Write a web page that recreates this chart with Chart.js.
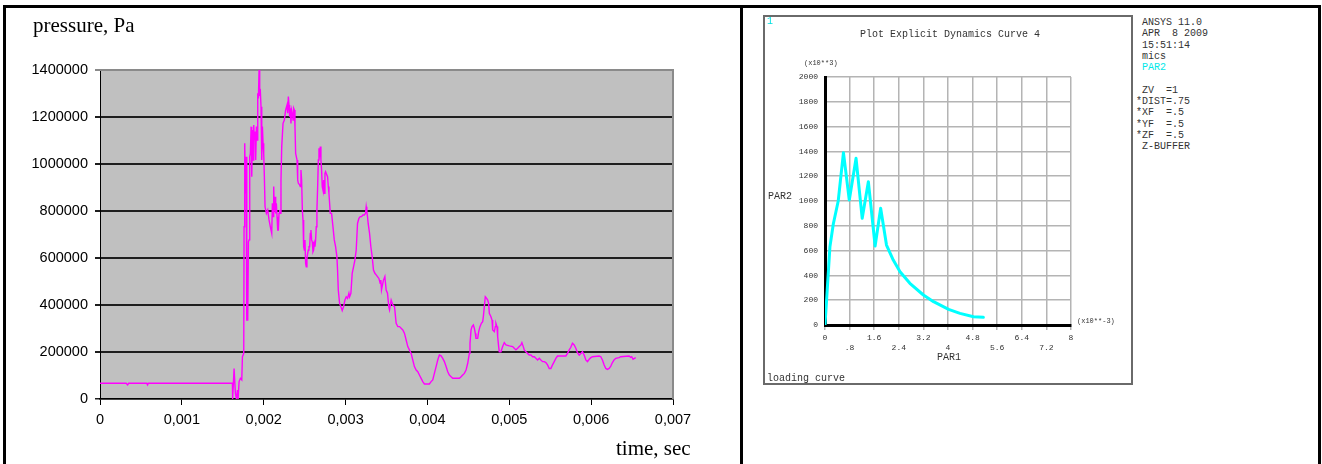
<!DOCTYPE html>
<html>
<head>
<meta charset="utf-8">
<script src="https://cdn.jsdelivr.net/npm/chart.js@4.4.1/dist/chart.umd.min.js"></script>
<style>
  html, body { margin: 0; padding: 0; background: #fff; }
  body { width: 1322px; height: 464px; position: relative; overflow: hidden; }
  .abs { position: absolute; }
  .line { position: absolute; background: #000; z-index: 5; }
  .txt { position: absolute; white-space: pre; z-index: 6; line-height: 1; }
  .mono { font-family: "Liberation Mono", "DejaVu Sans Mono", monospace; color: #333; }
</style>
</head>
<body>
<!-- frame -->
<div class="line" style="left:3px;top:5px;width:1318px;height:3px;"></div>
<div class="line" style="left:3px;top:5px;width:3px;height:470px;"></div>
<div class="line" style="left:740px;top:5px;width:3px;height:470px;"></div>
<div class="line" style="left:1318px;top:5px;width:3px;height:470px;"></div>

<div class="abs" style="left:0;top:0;width:740px;height:464px;"><canvas id="left"></canvas></div>

<div class="txt" style="left:33px;top:13px;font:21px 'Liberation Serif', serif;color:#000;">pressure, Pa</div>
<div class="txt" style="left:616px;top:436px;font:21px 'Liberation Serif', serif;color:#000;">time, sec</div>

<!-- ANSYS box -->
<div class="abs" style="left:763px;top:15px;width:366px;height:366px;border:2px solid #6a6a6a;"></div>
<div class="abs" style="left:765px;top:17px;width:366px;height:366px;"><canvas id="right"></canvas></div>

<div class="txt mono" style="left:767px;top:17px;font-size:10px;color:#00e0e0;">1</div>
<div class="txt mono" style="left:860px;top:30px;font-size:10px;">Plot Explicit Dynamics Curve 4</div>
<div class="txt mono" style="left:804px;top:60px;font-size:7px;">(x10**3)</div>
<div class="txt mono" style="left:768px;top:192px;font-size:10px;">PAR2</div>
<div class="txt mono" style="left:1077px;top:318px;font-size:7px;">(x10**-3)</div>
<div class="txt mono" style="left:937px;top:353px;font-size:10px;">PAR1</div>
<div class="txt mono" style="left:767px;top:374px;font-size:10px;">loading curve</div>

<div class="txt mono" style="left:1136px;top:17px;font-size:10px;line-height:11.3px;"> ANSYS 11.0
 APR  8 2009
 15:51:14
 mics
<span style="color:#00e8e8"> PAR2</span>

 ZV  =1
*DIST=.75
*XF  =.5
*YF  =.5
*ZF  =.5
 Z-BUFFER</div>

<script>
// ---------- data: left chart (Excel) ----------
const timeMs = [
0,0.32,0.337,0.35,0.57,0.581,0.59,1.618,1.620,1.638,1.654,1.667,1.679,1.687,1.699,1.715,1.732,1.740,1.756,1.760,
1.768,1.776,1.785,1.793,1.805,1.813,1.821,1.829,1.837,1.846,1.854,1.862,1.870,1.878,1.886,1.894,1.902,1.911,1.919,1.927,
1.935,1.943,1.951,1.959,1.967,1.976,1.984,1.992,2.000,2.008,2.016,2.033,2.049,2.065,2.081,2.098,2.106,2.114,2.122,2.130,
2.138,2.146,2.154,2.163,2.171,2.179,2.187,2.195,2.203,2.211,2.220,2.236,2.252,2.268,2.285,2.293,2.301,2.309,2.317,2.325,
2.333,2.341,2.350,2.358,2.366,2.374,2.382,2.390,2.407,2.415,2.423,2.439,2.447,2.455,2.463,2.472,2.480,2.488,2.496,2.504,
2.512,2.520,2.528,2.537,2.545,2.553,2.561,2.569,2.577,2.585,2.593,2.602,2.610,2.618,2.626,2.634,2.642,2.650,2.659,2.667,
2.675,2.683,2.691,2.699,2.707,2.715,2.724,2.732,2.740,2.748,2.756,2.764,2.772,2.780,2.789,2.797,2.805,2.813,2.829,2.846,
2.862,2.878,2.894,2.902,2.911,2.927,2.943,2.959,2.976,2.992,3.008,3.024,3.041,3.049,3.065,3.081,3.098,3.114,3.130,3.146,
3.163,3.179,3.195,3.211,3.228,3.244,3.252,3.260,3.268,3.276,3.293,3.309,3.325,3.341,3.358,3.374,3.390,3.407,3.423,3.431,
3.439,3.447,3.463,3.480,3.488,3.496,3.512,3.528,3.537,3.557,3.577,3.598,3.618,3.638,3.659,3.699,3.720,3.740,3.760,3.780,
3.801,3.821,3.841,3.862,3.882,3.902,3.923,3.943,3.963,4.024,4.045,4.065,4.085,4.106,4.126,4.146,4.167,4.187,4.207,4.228,
4.248,4.268,4.289,4.309,4.390,4.411,4.431,4.451,4.472,4.492,4.512,4.520,4.533,4.545,4.561,4.573,4.585,4.593,4.614,4.626,
4.642,4.659,4.675,4.683,4.695,4.707,4.724,4.736,4.748,4.756,4.776,4.789,4.797,4.817,4.829,4.837,4.850,4.858,4.870,4.878,
4.898,4.919,4.939,4.959,5.000,5.041,5.061,5.081,5.102,5.122,5.142,5.154,5.171,5.183,5.203,5.224,5.244,5.264,5.285,5.305,
5.325,5.346,5.366,5.386,5.407,5.427,5.447,5.467,5.488,5.508,5.528,5.549,5.569,5.589,5.691,5.711,5.732,5.752,5.772,5.793,
5.813,5.833,5.854,5.874,5.894,5.915,5.935,5.955,5.976,5.996,6.016,6.098,6.118,6.138,6.159,6.179,6.199,6.220,6.240,6.260,
6.280,6.301,6.341,6.362,6.463,6.484,6.496,6.512,6.528,6.545
];
const pressureKPa = [
67,67,60,67,67,60,67,67,0,130,24,0,38,0,74,88,81,180,194,733,
1088,875,1031,336,336,669,677,1031,1045,1159,946,1145,1017,1166,1102,1138,1017,1159,1102,1301,
1279,1400,1301,1308,1244,1017,1159,1088,1045,946,818,790,804,762,733,705,833,776,904,797,
861,790,833,776,719,719,790,804,790,932,1074,1173,1187,1230,1251,1216,1287,1251,1201,1237,
1173,1230,1216,1187,1237,1230,1159,1045,1017,932,918,911,904,974,932,804,762,648,634,677,
577,563,599,620,634,648,648,705,719,677,669,627,634,662,648,677,733,804,904,1017,
1067,1045,1074,1017,974,904,889,932,875,960,967,960,960,946,904,875,833,790,790,733,
677,648,606,549,464,407,393,376,393,421,435,428,450,435,450,535,563,591,634,747,
769,776,776,783,783,790,818,797,776,747,705,648,606,549,535,528,521,513,492,506,
464,478,506,521,492,464,450,393,379,421,400,393,322,308,308,294,279,251,223,209,
194,166,138,123,116,102,88,74,64,64,74,81,109,138,166,187,184,173,159,138,
116,102,95,88,88,95,102,109,123,152,194,237,294,308,315,301,279,258,258,287,
308,322,329,350,393,435,428,421,407,365,350,336,294,287,308,322,308,265,223,201,
201,223,240,230,226,223,216,209,216,223,230,240,223,209,201,194,187,187,180,180,
173,166,173,166,159,159,155,145,130,130,145,159,173,183,183,194,209,220,237,230,
216,197,187,194,201,187,166,159,169,176,180,183,180,166,145,130,126,130,140,155,
166,173,176,180,183,177,180,169,173,176
];
const leftXTicks = ['0','0,001','0,002','0,003','0,004','0,005','0,006','0,007'];
const leftYTicks = ['0','200000','400000','600000','800000','1000000','1200000','1400000'];

// ---------- data: right chart (ANSYS) ----------
const par1 = [0,0.16,0.27,0.43,0.6,0.79,1.01,1.21,1.41,1.63,1.81,2.0,2.22,2.44,2.76,3.2,3.53,4.02,4.39,4.83,5.15];
const par2 = [0,630,815,1000,1390,1008,1344,860,1156,637,941,645,524,430,336,242,188,126,94,67,62];
const ansysXTicks = ['0','.8','1.6','2.4','3.2','4','4.8','5.6','6.4','7.2','8'];
const ansysYTicks = ['0','200','400','600','800','1000','1200','1400','1600','1800','2000'];

const leftPts = timeMs.map((t, i) => ({ x: t / 1000, y: pressureKPa[i] * 1000 }));
const rightPts = par1.map((x, i) => ({ x: x, y: par2[i] }));

function fixedAxis(w, h) {
  return function (scale) {
    if (w !== null) scale.width = w;
    if (h !== null) scale.height = h;
    scale.paddingLeft = 0; scale.paddingRight = 0;
    scale.paddingTop = 0; scale.paddingBottom = 0;
  };
}

const plotBg = {
  id: 'plotBg',
  beforeDraw(chart, args, opts) {
    const a = chart.chartArea, c = chart.ctx;
    c.save();
    c.fillStyle = opts.color;
    c.fillRect(a.left, a.top, a.right - a.left, a.bottom - a.top);
    c.restore();
  },
  beforeDatasetsDraw(chart, args, opts) {
    if (!opts.edge) return;
    const a = chart.chartArea, c = chart.ctx;
    c.save();
    c.strokeStyle = opts.edge;
    c.lineWidth = 2;
    c.beginPath();
    c.moveTo(a.left, a.top); c.lineTo(a.right, a.top); c.lineTo(a.right, a.bottom);
    c.stroke();
    c.restore();
  }
};

const LEFT_W = 740, LEFT_H = 464;
new Chart(document.getElementById('left'), {
  type: 'line',
  data: { datasets: [{ data: leftPts, borderColor: '#ff00ff', borderWidth: 1.4, pointRadius: 0, tension: 0, fill: false }] },
  options: {
    responsive: true, maintainAspectRatio: false, animation: false,
    layout: { padding: { left: 0, top: 70, right: LEFT_W - 673, bottom: 0 } },
    plugins: { legend: { display: false }, tooltip: { enabled: false }, plotBg: { color: '#c0c0c0', edge: '#8a8a8a' } },
    scales: {
      x: {
        type: 'linear', min: 0, max: 0.007,
        afterBuildTicks: s => { s.ticks = leftXTicks.map(l => ({ value: parseFloat(l.replace(',', '.')) })); },
        afterFit: fixedAxis(null, LEFT_H - 399),
        ticks: { callback: (v, i) => leftXTicks[i], color: '#000', font: { family: 'Liberation Sans', size: 14.5 }, padding: 6, maxRotation: 0, autoSkip: false },
        grid: { drawOnChartArea: false, drawTicks: true, tickLength: 6, color: '#000', lineWidth: 1 },
        border: { display: true, color: '#000', width: 1.5 }
      },
      y: {
        type: 'linear', min: 0, max: 1400000,
        afterBuildTicks: s => { s.ticks = leftYTicks.map(l => ({ value: Number(l) })); },
        afterFit: fixedAxis(100, null),
        ticks: { callback: (v, i) => leftYTicks[i], color: '#000', font: { family: 'Liberation Sans', size: 14.5 }, padding: 7 },
        grid: {
          drawTicks: true, tickLength: 5,
          color: c => (c.tick && c.tick.value === 1400000) ? '#8a8a8a' : '#1e1e1e',
          lineWidth: c => (c.tick && c.tick.value === 0) ? 1.5 : 2
        },
        border: { display: true, color: '#000', width: 1 }
      }
    }
  },
  plugins: [plotBg]
});

// right chart canvas spans 765..1131 x 17..383
const R_X0 = 765, R_Y0 = 17, R_W = 366, R_H = 366;
new Chart(document.getElementById('right'), {
  type: 'line',
  data: { datasets: [{ data: rightPts, borderColor: '#00ffff', borderWidth: 3, borderJoinStyle: 'round', borderCapStyle: 'round', pointRadius: 0, tension: 0, fill: false }] },
  options: {
    responsive: true, maintainAspectRatio: false, animation: false,
    layout: { padding: { left: 0, top: 77 - R_Y0, right: R_X0 + R_W - 1071, bottom: 0 } },
    plugins: { legend: { display: false }, tooltip: { enabled: false }, plotBg: { color: '#ffffff', edge: null } },
    scales: {
      x: {
        type: 'linear', min: 0, max: 8,
        afterBuildTicks: s => { s.ticks = ansysXTicks.map(l => ({ value: parseFloat(l) })); },
        afterFit: fixedAxis(null, R_Y0 + R_H - 325),
        ticks: {
          callback: (v, i) => (i % 2 ? ['', ansysXTicks[i]] : ansysXTicks[i]),
          color: '#333', font: { family: 'Liberation Mono', size: 8, lineHeight: 1.25 }, padding: 3, maxRotation: 0, autoSkip: false
        },
        grid: { drawTicks: true, tickLength: 5, color: '#b4b4b4', lineWidth: 1.5 },
        border: { display: true, color: '#000', width: 3 }
      },
      y: {
        type: 'linear', min: 0, max: 2000,
        afterBuildTicks: s => { s.ticks = ansysYTicks.map(l => ({ value: Number(l) })); },
        afterFit: fixedAxis(825 - R_X0, null),
        ticks: { callback: (v, i) => ansysYTicks[i], color: '#333', font: { family: 'Liberation Mono', size: 8 }, padding: 7 },
        grid: { drawTicks: false, color: '#b4b4b4', lineWidth: 1.5 },
        border: { display: true, color: '#000', width: 3 }
      }
    }
  },
  plugins: [plotBg]
});
</script>
</body>
</html>
